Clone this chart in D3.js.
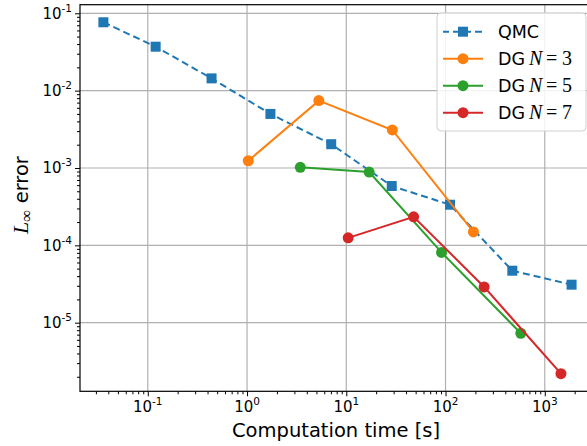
<!DOCTYPE html>
<html>
<head>
<meta charset="utf-8">
<script src="https://cdn.jsdelivr.net/npm/d3@7"></script>
<style>
  body { margin: 0; background: #fff; }
  text { font-family: "DejaVu Sans", sans-serif; fill: #000; }
</style>
</head>
<body>
<div id="chart"></div>
<script>
// data (log-log)
var qmcTime = [0.0357, 0.12, 0.439, 1.72, 7.05, 28.7, 111, 471, 1862];
var qmcErr  = [0.0765, 0.037, 0.0144, 0.005, 0.00203, 5.85e-4, 3.35e-4, 4.7e-5, 3.1e-5];
var dg3Time = [1.03, 5.29, 29.1, 191];
var dg3Err  = [1.24e-3, 7.43e-3, 3.1e-3, 1.49e-4];
var dg5Time = [3.44, 17.0, 91.2, 573];
var dg5Err  = [1.02e-3, 8.87e-4, 8.1e-5, 7.3e-6];
var dg7Time = [10.45, 47.7, 245, 1455];
var dg7Err  = [1.25e-4, 2.34e-4, 2.9e-5, 2.19e-6];
var seriesNames = ["QMC", "DG N=3", "DG N=5", "DG N=7"];
var seriesN = ["", "3", "5", "7"];
var xTickExp = [-1, 0, 1, 2, 3];
var yTickExp = [-1, -2, -3, -4, -5];

var w = 587, h = 446;
var pLeft = 80, pRight = 595, pTop = 4.7, pBottom = 391.3;
var colors = ["#1f77b4", "#ff7f0e", "#2ca02c", "#d62728"];

var svg = d3.select("#chart").append("svg")
            .attr("width", w)
            .attr("height", h);

var x = d3.scaleLog().domain([Math.pow(10, -1.683), Math.pow(10, 3.506)]).range([pLeft, pRight]);
var y = d3.scaleLog().domain([Math.pow(10, -5.887), Math.pow(10, -0.889)]).range([pBottom, pTop]);

function minors(scale) {
    var d = scale.domain(), lo = Math.min(d[0], d[1]), hi = Math.max(d[0], d[1]);
    var out = [];
    for (var e = Math.floor(Math.log10(lo)); e <= Math.ceil(Math.log10(hi)); e++) {
        for (var k = 2; k <= 9; k++) {
            var v = k * Math.pow(10, e);
            if (v >= lo && v <= hi) out.push(v);
        }
    }
    return out;
}
var xMajor = xTickExp.map(function(e) { return Math.pow(10, e); });
var yMajor = yTickExp.map(function(e) { return Math.pow(10, e); });

// grid
svg.append("g").selectAll("line").data(xMajor).enter().append("line")
   .attr("x1", function(d) { return x(d); }).attr("x2", function(d) { return x(d); })
   .attr("y1", pTop).attr("y2", pBottom)
   .attr("stroke", "#b0b0b0").attr("stroke-width", 1.2);
svg.append("g").selectAll("line").data(yMajor).enter().append("line")
   .attr("y1", function(d) { return y(d); }).attr("y2", function(d) { return y(d); })
   .attr("x1", pLeft).attr("x2", pRight)
   .attr("stroke", "#b0b0b0").attr("stroke-width", 1.2);

// axes
svg.append("g").attr("transform", "translate(0," + pBottom + ")")
   .call(d3.axisBottom(x).tickValues(xMajor).tickSize(5).tickFormat(""));
svg.append("g").attr("transform", "translate(0," + pBottom + ")")
   .call(d3.axisBottom(x).tickValues(minors(x)).tickSize(3).tickFormat(""));
svg.append("g").attr("transform", "translate(" + pLeft + ",0)")
   .call(d3.axisLeft(y).tickValues(yMajor).tickSize(5).tickFormat(""));
svg.append("g").attr("transform", "translate(" + pLeft + ",0)")
   .call(d3.axisLeft(y).tickValues(minors(y)).tickSize(3).tickFormat(""));
svg.selectAll(".domain").remove();
svg.selectAll(".tick line").attr("stroke", "#000").attr("stroke-width", 1);

// tick labels with superscripts
var xl = svg.append("g").selectAll("text").data(xTickExp).enter().append("text")
   .attr("x", function(d) { return x(Math.pow(10, d)); })
   .attr("y", 412)
   .attr("text-anchor", "middle")
   .attr("font-size", "15px");
xl.append("tspan").text("10");
xl.append("tspan").attr("dy", -7).attr("font-size", "10.5px").text(function(d) { return d < 0 ? "-" + (-d) : d; });

var yl = svg.append("g").selectAll("text").data(yTickExp).enter().append("text")
   .attr("x", 72)
   .attr("y", function(d) { return y(Math.pow(10, d)) + 5.5; })
   .attr("text-anchor", "end")
   .attr("font-size", "15px");
yl.append("tspan").text("10");
yl.append("tspan").attr("dy", -7).attr("font-size", "10.5px").text(function(d) { return "-" + (-d); });

// frame
svg.append("rect").attr("x", pLeft).attr("y", pTop)
   .attr("width", pRight - pLeft).attr("height", pBottom - pTop)
   .attr("fill", "none").attr("stroke", "#000").attr("stroke-width", 1.2);

// axis labels
svg.append("text").attr("x", 336).attr("y", 437)
   .attr("text-anchor", "middle").attr("font-size", "19.5px")
   .text("Computation time [s]");
var ylab = svg.append("text")
   .attr("transform", "translate(28,195) rotate(-90)")
   .attr("text-anchor", "middle").attr("font-size", "19.5px");
ylab.append("tspan").attr("font-family", "Liberation Serif").attr("font-style", "italic").attr("font-size", "22px").text("L");
ylab.append("tspan").attr("dy", 4).attr("font-size", "17px").attr("font-family", "Liberation Serif").text("\u221e");
ylab.append("tspan").attr("dy", -4).text(" error");

// series
var series = [
    { t: qmcTime, e: qmcErr },
    { t: dg3Time, e: dg3Err },
    { t: dg5Time, e: dg5Err },
    { t: dg7Time, e: dg7Err }
];
var line = d3.line().x(function(d) { return x(d[0]); }).y(function(d) { return y(d[1]); });

var plot = svg.append("g");
series.forEach(function(s, i) {
    var pts = d3.zip(s.t, s.e);
    plot.append("path").datum(pts)
        .attr("d", line)
        .attr("fill", "none")
        .attr("stroke", colors[i])
        .attr("stroke-width", 2)
        .attr("stroke-dasharray", i === 0 ? "7,4" : null);
    if (i === 0) {
        plot.selectAll(".sq").data(pts).enter().append("rect")
            .attr("class", "sq")
            .attr("x", function(d) { return x(d[0]) - 5; })
            .attr("y", function(d) { return y(d[1]) - 5; })
            .attr("width", 10).attr("height", 10)
            .attr("fill", colors[i]);
    } else {
        plot.selectAll(".c" + i).data(pts).enter().append("circle")
            .attr("class", "c" + i)
            .attr("cx", function(d) { return x(d[0]); })
            .attr("cy", function(d) { return y(d[1]); })
            .attr("r", 5.5)
            .attr("fill", colors[i]);
    }
});

// legend
var lg = svg.append("g");
lg.append("rect").attr("x", 437).attr("y", 13).attr("width", 149).attr("height", 118)
  .attr("rx", 4).attr("fill", "#fff").attr("fill-opacity", 0.85)
  .attr("stroke", "#d0d0d0").attr("stroke-width", 1);
seriesNames.forEach(function(name, i) {
    var cy = 31.7 + i * 27;
    lg.append("line").attr("x1", 443).attr("x2", 483).attr("y1", cy).attr("y2", cy)
      .attr("stroke", colors[i]).attr("stroke-width", 2)
      .attr("stroke-dasharray", i === 0 ? "7,4" : null)
      .attr("stroke-dashoffset", i === 0 ? 1 : null);
    if (i === 0) {
        lg.append("rect").attr("x", 458).attr("y", cy - 5).attr("width", 10).attr("height", 10).attr("fill", colors[i]);
    } else {
        lg.append("circle").attr("cx", 463).attr("cy", cy).attr("r", 5.5).attr("fill", colors[i]);
    }
    var t = lg.append("text").attr("x", 498).attr("y", cy + 6.5).attr("font-size", "17.5px");
    if (i === 0) {
        t.text(name);
    } else {
        t.append("tspan").text("DG");
        t.append("tspan").attr("x", 529).attr("font-family", "Liberation Serif").attr("font-style", "italic").attr("font-size", "20px").text("N");
        t.append("tspan").attr("x", 546).attr("font-family", "Liberation Serif").attr("font-size", "20px").text("=");
        t.append("tspan").attr("x", 562).attr("font-family", "Liberation Serif").attr("font-size", "20px").text(seriesN[i]);
    }
});
</script>
</body>
</html>
